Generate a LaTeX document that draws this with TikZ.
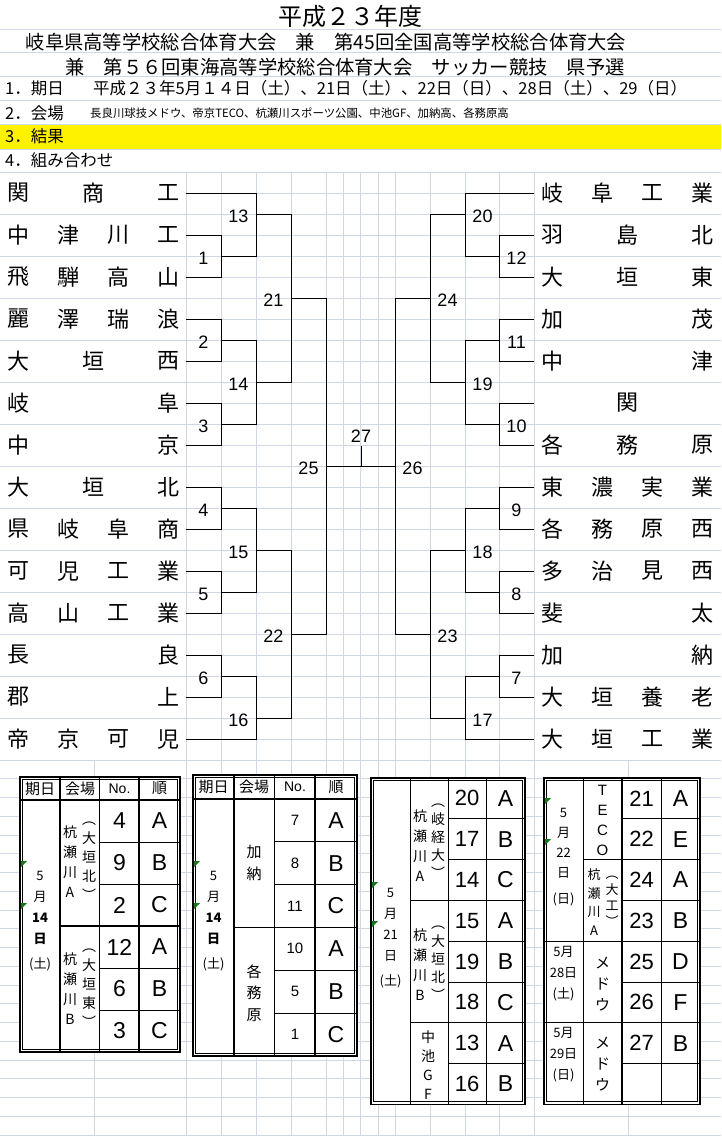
\documentclass[tikz,border=0pt]{standalone}
\usepackage{fontspec}
\setmainfont{Noto Sans CJK JP}
\newfontfamily\arial{Liberation Sans}
\usetikzlibrary{positioning}
\definecolor{gridc}{RGB}{208,215,229}
\definecolor{xlgreen}{RGB}{20,120,20}
\newcommand\fsz[2]{\fontsize{#1}{#2}\selectfont}

\tikzset{
  gridline/.style={draw=gridc, line width=0.6pt},
  wire/.style={line width=0.8pt},
  team/.style={font=\fsz{22}{22}, inner sep=0pt},
  namecell/.style={inner sep=0pt, minimum height=42pt},
  num/.style={font=\arial\fsz{18}{18}, inner sep=0pt},
  hdr/.style={anchor=west, inner sep=0pt, font=\fsz{16.5}{16.5}},
  head/.style={font=\fsz{15}{15}, inner sep=0pt},
  datec/.style={align=center, inner sep=0pt, font=\fsz{13}{21}},
  vtext/.style={align=center, inner sep=0pt, font=\fsz{14}{20}},
  bignum/.style={font=\arial\fsz{23}{23}, inner sep=0pt},
  smallnum/.style={font=\arial\fsz{15}{15}, inner sep=0pt},
  tabframe/.style={line width=1.5pt},
  tabinner/.style={line width=0.8pt},
  rule/.style={line width=1.5pt},
  hair/.style={line width=0.8pt},
  errmark/.style={fill=xlgreen}
}

\begin{document}
\begin{tikzpicture}[x=1pt, y=-1pt]
\useasboundingbox (0,0) rectangle (721,1136);

% sheet grid
\fill[yellow] (0,124) rectangle (721,149);
\foreach \y in {29,52,76,100,124,149,172}
  \draw[gridline] (0,\y) -- (721,\y);
\foreach \k in {1,...,28}
  \draw[gridline] (186,172+21*\k) -- (534,172+21*\k);
\foreach \k in {1,...,14}
  \draw[gridline] (0,172+42*\k) -- (721,172+42*\k);
\foreach \k in {1,...,20}
  \draw[gridline] (0,760+18.75*\k) -- (721,760+18.75*\k);
\foreach \x in {186,221,256,291,326,343,360,378,395,430,465,499,534}
  \draw[gridline] (\x,172) -- (\x,1136);
\foreach \x in {94,628}
  \draw[gridline] (\x,760) -- (\x,1136);

% heading
\node[inner sep=0pt, font=\fsz{24}{24}] (title) at (350,16) {平成２３年度};
\node[inner sep=0pt, font=\fsz{19.3}{20}] (meet1) at (326,42)
  {岐阜県高等学校総合体育大会　兼　第45回全国高等学校総合体育大会};
\node[inner sep=0pt, font=\fsz{19.3}{20}] (meet2) at (345,67)
  {兼　第５６回東海高等学校総合体育大会　サッカー競技　県予選};
\node[hdr] (days) at (5,88) {1．期日};
\node[hdr] (daylist) at (93,88) {平成２３年5月１４日（土）、21日（土）、22日（日）、28日（土）、29（日）};
\node[hdr] (venue) at (5,113) {2．会場};
\node[hdr, font=\fsz{11.4}{12}] (venuelist) at (90,113)
  {長良川球技メドウ、帝京TECO、杭瀬川スポーツ公園、中池GF、加納高、各務原高};
\node[hdr] (result) at (5,136) {3．結果};
\node[hdr] (pairs) at (5,160) {4．組み合わせ};

% teams
\foreach \i/\nm in {1/{0/関,3/商,6/工}, 2/{0/中,2/津,4/川,6/工}, 3/{0/飛,2/騨,4/高,6/山},
    4/{0/麗,2/澤,4/瑞,6/浪}, 5/{0/大,3/垣,6/西}, 6/{0/岐,6/阜}, 7/{0/中,6/京},
    8/{0/大,3/垣,6/北}, 9/{0/県,2/岐,4/阜,6/商}, 10/{0/可,2/児,4/工,6/業},
    11/{0/高,2/山,4/工,6/業}, 12/{0/長,6/良}, 13/{0/郡,6/上}, 14/{0/帝,2/京,4/可,6/児}} {
  \node[namecell, minimum width=186pt] (L\i) at (93,151+42*\i) {};
  \foreach \j/\ch in \nm
    \node[team] (L\i-\j) at (18+25*\j,151+42*\i) {\ch};
}
\foreach \i/\nm in {1/{0/岐,2/阜,4/工,6/業}, 2/{0/羽,3/島,6/北}, 3/{0/大,3/垣,6/東},
    4/{0/加,6/茂}, 5/{0/中,6/津}, 6/{3/関}, 7/{0/各,3/務,6/原},
    8/{0/東,2/濃,4/実,6/業}, 9/{0/各,2/務,4/原,6/西}, 10/{0/多,2/治,4/見,6/西},
    11/{0/斐,6/太}, 12/{0/加,6/納}, 13/{0/大,2/垣,4/養,6/老}, 14/{0/大,2/垣,4/工,6/業}} {
  \node[namecell, minimum width=187pt] (R\i) at (627.5,151+42*\i) {};
  \foreach \j/\ch in \nm
    \node[team] (R\i-\j) at (552+25*\j,151+42*\i) {\ch};
}

% matches
\coordinate (m1) at (221,256);  \coordinate (m2) at (221,340);
\coordinate (m3) at (221,424);  \coordinate (m4) at (221,508);
\coordinate (m5) at (221,592);  \coordinate (m6) at (221,676);
\coordinate (m13) at (256,214); \coordinate (m14) at (256,382);
\coordinate (m15) at (256,550); \coordinate (m16) at (256,718);
\coordinate (m21) at (291,298); \coordinate (m22) at (291,634);
\coordinate (m25) at (326,466);
\coordinate (m12) at (499,256); \coordinate (m11) at (499,340);
\coordinate (m10) at (499,424); \coordinate (m9) at (499,508);
\coordinate (m8) at (499,592);  \coordinate (m7) at (499,676);
\coordinate (m20) at (465,214); \coordinate (m19) at (465,382);
\coordinate (m18) at (465,550); \coordinate (m17) at (465,718);
\coordinate (m24) at (430,298); \coordinate (m23) at (430,634);
\coordinate (m26) at (395,466);
\coordinate (m27) at (361,446);

\draw[wire] (L2.east) -| (m1) (L3.east) -| (m1) (L1.east) -| (m13) (m1) -| (m13)
  (L4.east) -| (m2) (L5.east) -| (m2) (L6.east) -| (m3) (L7.east) -| (m3)
  (m2) -| (m14) (m3) -| (m14) (m13) -| (m21) (m14) -| (m21)
  (L8.east) -| (m4) (L9.east) -| (m4) (L10.east) -| (m5) (L11.east) -| (m5)
  (m4) -| (m15) (m5) -| (m15) (L12.east) -| (m6) (L13.east) -| (m6)
  (m6) -| (m16) (L14.east) -| (m16) (m15) -| (m22) (m16) -| (m22)
  (m21) -| (m25) (m22) -| (m25);
\draw[wire] (R2.west) -| (m12) (R3.west) -| (m12) (R1.west) -| (m20) (m12) -| (m20)
  (R4.west) -| (m11) (R5.west) -| (m11) (R6.west) -| (m10) (R7.west) -| (m10)
  (m11) -| (m19) (m10) -| (m19) (m20) -| (m24) (m19) -| (m24)
  (R8.west) -| (m9) (R9.west) -| (m9) (R10.west) -| (m8) (R11.west) -| (m8)
  (m9) -| (m18) (m8) -| (m18) (R12.west) -| (m7) (R13.west) -| (m7)
  (m7) -| (m17) (R14.west) -| (m17) (m18) -| (m23) (m17) -| (m23)
  (m24) -| (m26) (m23) -| (m26);
\draw[wire] (m25) -- (m26) (m27) -- (m27 |- m25);

\foreach \m in {1,2,3,4,5,6,13,14,15,16,21,22,25}
  \node[num] (n\m) at ([shift={(-17.5,2)}]m\m) {\m};
\foreach \m in {7,8,9,10,11,12,17,18,19,20,23,24,26}
  \node[num] (n\m) at ([shift={(17.5,2)}]m\m) {\m};
\node[num] (n27) at ([shift={(0,-10)}]m27) {27};

% table 14th
\fill[white] (20,777) rectangle (180,1052);
\foreach \y in {842,884,968,1010} \draw[hair] (99.5,\y) -- (180,\y);
\draw[rule] (20,800) -- (180,800) (60,926) -- (180,926);
\foreach \x in {60,99.5,139} \draw[rule] (\x,777) -- (\x,1052);
\draw[tabframe] (20,777) rectangle (180,1052);
\draw[tabinner] (22.6,779.6) rectangle (177.4,1049.4);
\node[head] (a-h1) at (40,788.5) {期日};
\node[head] (a-h2) at (80,788.5) {会場};
\node[head, font=\arial\fsz{14}{14}] (a-h3) at (119.5,788.5) {No.};
\node[head] (a-h4) at (159.5,788.5) {順};
\node[datec] (a-d) at (40,921) {5\\月\\\textbf{14}\\\textbf{日}\\[4pt](土)};
\node[vtext] (a-v1) at (70,862) {杭\\瀬\\川\\A};
\node[vtext, font=\fsz{14}{19}] (a-p1) at (89,861) {︵\\大\\垣\\北\\︶};
\node[vtext] (a-v2) at (70,989) {杭\\瀬\\川\\B};
\node[vtext, font=\fsz{14}{19}] (a-p2) at (89,988) {︵\\大\\垣\\東\\︶};
\foreach \n/\r [count=\k] in {4/A,9/B,2/C,12/A,6/B,3/C} {
  \node[bignum] (a-n\k) at (119.5,779+42*\k) {\n};
  \node[bignum] (a-r\k) at (159.5,779+42*\k) {\r};
}
\fill[errmark] (21,861) -- (27,861) -- (21,867) -- cycle;
\fill[errmark] (21,903) -- (27,903) -- (21,909) -- cycle;

% table kano / kakamigahara
\fill[white] (193,775) rectangle (357,1056);
\foreach \y in {841.8,884.6,970.2,1013} \draw[hair] (274.5,\y) -- (357,\y);
\draw[rule] (193,799) -- (357,799) (234,927.4) -- (357,927.4);
\foreach \x in {234,274.5,315} \draw[rule] (\x,775) -- (\x,1056);
\draw[tabframe] (193,775) rectangle (357,1056);
\draw[tabinner] (195.6,777.6) rectangle (354.4,1053.4);
\node[head] (b-h1) at (213.5,787) {期日};
\node[head] (b-h2) at (254,787) {会場};
\node[head, font=\arial\fsz{14}{14}] (b-h3) at (295,787) {No.};
\node[head] (b-h4) at (336,787) {順};
\node[datec] (b-d) at (213.5,921) {5\\月\\\textbf{14}\\\textbf{日}\\[4pt](土)};
\node[vtext, font=\fsz{15}{22}] (b-v1) at (254,863) {加\\納};
\node[vtext, font=\fsz{15}{21.5}] (b-v2) at (254,993) {各\\務\\原};
\foreach \n/\r [count=\k] in {7/A,8/B,11/C,10/A,5/B,1/C} {
  \node[smallnum] (b-n\k) at (295,777.6+42.8*\k) {\n};
  \node[bignum] (b-r\k) at (336,777.6+42.8*\k) {\r};
}
\fill[errmark] (194,861) -- (200,861) -- (194,867) -- cycle;
\fill[errmark] (194,903) -- (200,903) -- (194,909) -- cycle;

% table 21st
\fill[white] (371,778) rectangle (525,1104.4);
\foreach \k in {1,2,4,5,7} \draw[hair] (448,778+40.8*\k) -- (525,778+40.8*\k);
\draw[rule, line width=1.1pt] (410,900.4) -- (525,900.4) (410,1022.8) -- (525,1022.8);
\foreach \x in {410,448,486} \draw[hair] (\x,778) -- (\x,1104.4);
\draw[tabframe] (371,778) rectangle (525,1104.4);
\draw[tabinner] (373.6,780.6) rectangle (522.4,1101.8);
\node[datec] (c-d) at (390.5,938) {5\\月\\21\\日\\[4pt](土)};
\node[vtext] (c-v1) at (420,846) {杭\\瀬\\川\\A};
\node[vtext, font=\fsz{14}{18}] (c-p1) at (438,841) {︵\\岐\\経\\大\\︶};
\node[vtext] (c-v2) at (420,965) {杭\\瀬\\川\\B};
\node[vtext, font=\fsz{14}{18}] (c-p2) at (438,963) {︵\\大\\垣\\北\\︶};
\node[vtext, font=\fsz{14}{19}] (c-v3) at (428,1065) {中\\池\\G\\F};
\foreach \n/\r [count=\k] in {20/A,17/B,14/C,15/A,19/B,18/C,13/A,16/B} {
  \node[bignum, font=\arial\fsz{22}{22}] (c-n\k) at (467,757.6+40.8*\k) {\n};
  \node[bignum] (c-r\k) at (505.5,757.6+40.8*\k) {\r};
}
\fill[errmark] (372,882) -- (378,882) -- (372,888) -- cycle;
\fill[errmark] (372,921) -- (378,921) -- (372,927) -- cycle;

% table 22nd - 29th
\fill[white] (544,778) rectangle (700,1104.4);
\foreach \k in {1,2,3,5,7} \draw[hair] (622,778+40.8*\k) -- (700,778+40.8*\k);
\draw[hair] (583,859.6) -- (622,859.6);
\draw[rule, line width=1.1pt] (544,941.2) -- (700,941.2) (544,1022.8) -- (700,1022.8);
\foreach \x in {583,661} \draw[hair] (\x,778) -- (\x,1104.4);
\draw[rule, line width=1.1pt] (622,778) -- (622,1104.4);
\draw[tabframe] (544,778) rectangle (700,1104.4);
\draw[tabinner] (546.6,780.6) rectangle (697.4,1101.8);
\node[datec, font=\fsz{13}{20}] (d-d1) at (563.5,857) {5\\月\\22\\日\\[6pt](日)};
\node[datec] (d-d2) at (563.5,974) {5月\\28日\\(土)};
\node[datec] (d-d3) at (563.5,1055) {5月\\29日\\(日)};
\node[vtext, font=\arial\fsz{15}{20}] (d-v1) at (602.5,820) {T\\E\\C\\O};
\node[vtext, font=\fsz{13}{18.5}] (d-v2) at (594,902) {杭\\瀬\\川\\A};
\node[vtext, font=\fsz{13}{16}] (d-p2) at (612,901) {︵\\大\\工\\︶};
\node[vtext, font=\fsz{15}{21}] (d-v3) at (602.5,984) {メ\\ド\\ウ};
\node[vtext, font=\fsz{15}{21}] (d-v4) at (602.5,1064) {メ\\ド\\ウ};
\foreach \n/\r [count=\k] in {21/A,22/E,24/A,23/B,25/D,26/F,27/B} {
  \node[bignum, font=\arial\fsz{22}{22}] (d-n\k) at (641.5,757.6+40.8*\k) {\n};
  \node[bignum] (d-r\k) at (680.5,757.6+40.8*\k) {\r};
}
\fill[errmark] (545,798) -- (551,798) -- (545,804) -- cycle;
\fill[errmark] (545,839) -- (551,839) -- (545,845) -- cycle;
\end{tikzpicture}
\end{document}
